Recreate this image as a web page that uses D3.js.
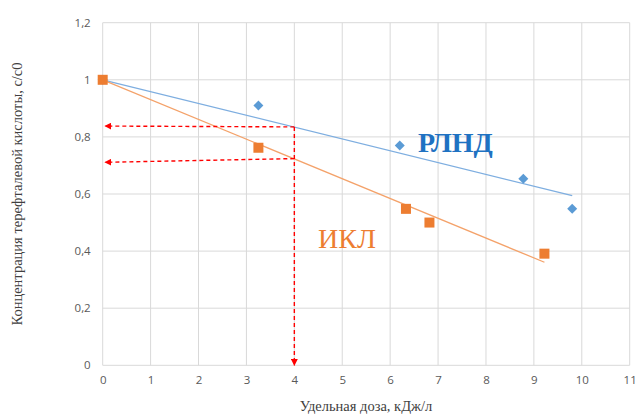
<!DOCTYPE html>
<html>
<head>
<meta charset="utf-8">
<script src="https://cdn.jsdelivr.net/npm/d3@7"></script>
<style>
  html, body { margin: 0; padding: 0; background: #fff; }
  svg { display: block; }
  .tick text { font-family: "Open Sans", "Liberation Sans", sans-serif; font-size: 11.5px; fill: #595959; }
</style>
</head>
<body>
<svg id="chart" width="635" height="415"></svg>
<script>
// Specific dose (kJ/L) and relative concentration c/c0 for each sample set
const rlndDose = [0, 3.25, 6.2, 8.78, 9.8];
const rlndConc = [1.0, 0.91, 0.77, 0.653, 0.548];
const iklDose = [0, 3.25, 6.33, 6.82, 9.22];
const iklConc = [1.0, 0.762, 0.548, 0.50, 0.391];

// Linear trend lines (start, end)
const rlndTrendX = [0, 9.8];
const rlndTrendY = [1.0, 0.594];
const iklTrendX = [0, 9.22];
const iklTrendY = [1.0, 0.361];

// Read-off guides at dose 4
const guideDose = 4;
const guideRlnd = [0.835, 0.838];   // at x = 4, at left tip
const guideIkl = [0.724, 0.711];

const xTicks = [0, 1, 2, 3, 4, 5, 6, 7, 8, 9, 10, 11];
const yTicks = [0, 0.2, 0.4, 0.6, 0.8, 1.0, 1.2];

const svg = d3.select("#chart");
const x = d3.scaleLinear().domain([0, 11]).range([102.7, 629.7]);
const y = d3.scaleLinear().domain([0, 1.2]).range([365.3, 22.7]);

const fmt = d => d3.format(".1f")(d).replace(".", ",").replace(",0", "");

// Gridlines
svg.append("g").selectAll("line.v").data(xTicks).join("line")
  .attr("x1", d => x(d)).attr("x2", d => x(d))
  .attr("y1", y(0)).attr("y2", y(1.2))
  .attr("stroke", "#d9d9d9").attr("stroke-width", 1);
svg.append("g").selectAll("line.h").data(yTicks).join("line")
  .attr("x1", x(0)).attr("x2", x(11))
  .attr("y1", d => y(d)).attr("y2", d => y(d))
  .attr("stroke", "#d9d9d9").attr("stroke-width", 1);

// Axes (labels only)
const xAxis = svg.append("g").attr("transform", `translate(0,${y(0)})`)
  .call(d3.axisBottom(x).tickValues(xTicks).tickSize(0).tickPadding(11).tickFormat(d3.format("d")));
xAxis.select(".domain").remove();
const yAxis = svg.append("g").attr("transform", `translate(${x(0)},0)`)
  .call(d3.axisLeft(y).tickValues(yTicks).tickSize(0).tickPadding(12).tickFormat(fmt));
yAxis.select(".domain").remove();

// Axis titles
svg.append("text")
  .attr("x", 366).attr("y", 411)
  .attr("text-anchor", "middle")
  .attr("font-family", "'Liberation Serif', serif").attr("font-size", 14.5)
  .attr("fill", "#404040")
  .text("Удельная доза, кДж/л");
svg.append("text")
  .attr("transform", "translate(22,194) rotate(-90)")
  .attr("text-anchor", "middle")
  .attr("font-family", "'Liberation Serif', serif").attr("font-size", 14.5)
  .attr("fill", "#404040")
  .text("Концентрация терефталевой кислоты, с/с0");

// Trend lines
const line = d3.line().x(d => x(d[0])).y(d => y(d[1]));
svg.append("path").datum(d3.zip(rlndTrendX, rlndTrendY))
  .attr("d", line).attr("stroke", "#7eaee0").attr("stroke-width", 1.3).attr("fill", "none");
svg.append("path").datum(d3.zip(iklTrendX, iklTrendY))
  .attr("d", line).attr("stroke", "#f4a26a").attr("stroke-width", 1.3).attr("fill", "none");

// Guide arrows
const defs = svg.append("defs");
defs.append("marker").attr("id", "arrowRed")
  .attr("viewBox", "0 0 10 10").attr("refX", 9).attr("refY", 5)
  .attr("markerWidth", 5).attr("markerHeight", 5).attr("orient", "auto")
  .attr("markerUnits", "strokeWidth")
  .append("path").attr("d", "M0,0 L10,5 L0,10 Z").attr("fill", "#ff0000");

const guides = svg.append("g").attr("stroke", "#ff0000").attr("stroke-width", 1.4)
  .attr("stroke-dasharray", "4,3").attr("fill", "none");
guides.append("line")
  .attr("x1", x(guideDose)).attr("y1", y(guideRlnd[0]))
  .attr("x2", x(guideDose)).attr("y2", y(0))
  .attr("marker-end", "url(#arrowRed)");
guides.append("line")
  .attr("x1", x(guideDose)).attr("y1", y(guideRlnd[0]))
  .attr("x2", x(0.05)).attr("y2", y(guideRlnd[1]))
  .attr("marker-end", "url(#arrowRed)");
guides.append("line")
  .attr("x1", x(guideDose)).attr("y1", y(guideIkl[0]))
  .attr("x2", x(0.05)).attr("y2", y(guideIkl[1]))
  .attr("marker-end", "url(#arrowRed)");

// РЛНД markers: diamonds
svg.append("g").selectAll("path").data(d3.zip(rlndDose, rlndConc)).join("path")
  .attr("d", d3.symbol().type(d3.symbolSquare).size(50))
  .attr("transform", d => `translate(${x(d[0])},${y(d[1])}) rotate(45)`)
  .attr("fill", "#5b9bd5");

// ИКЛ markers: squares
svg.append("g").selectAll("rect").data(d3.zip(iklDose, iklConc)).join("rect")
  .attr("x", d => x(d[0]) - 5).attr("y", d => y(d[1]) - 5)
  .attr("width", 10).attr("height", 10)
  .attr("fill", "#ed7d31");

// Series labels
svg.append("text")
  .attr("x", 418).attr("y", 152)
  .attr("font-family", "'Liberation Serif', serif").attr("font-size", 28).attr("font-weight", "bold")
  .attr("fill", "#1f72c2")
  .text("РЛНД");
svg.append("text")
  .attr("x", 318).attr("y", 248)
  .attr("font-family", "'Liberation Serif', serif").attr("font-size", 28)
  .attr("fill", "#ed7d31")
  .text("ИКЛ");
</script>
</body>
</html>
